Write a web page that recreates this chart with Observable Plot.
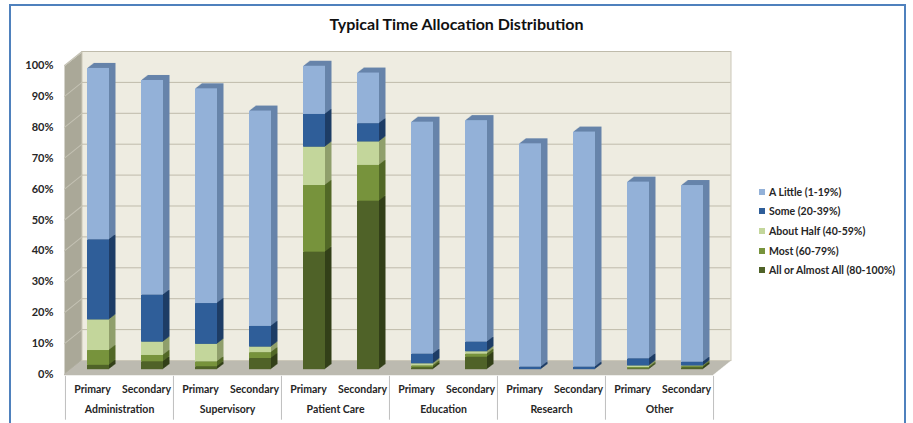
<!DOCTYPE html>
<html><head><meta charset="utf-8">
<script src="https://cdn.jsdelivr.net/npm/d3@7"></script>
<script src="https://cdn.jsdelivr.net/npm/@observablehq/plot@0.6"></script>
<style>
body{margin:0;background:#fff;font-family:Lato,"Open Sans",sans-serif;}
#border{position:absolute;left:9px;top:4px;width:893px;height:440px;border:2.5px solid #4f81bd;}
#title{position:absolute;left:0;top:14px;width:913px;text-align:center;font-weight:bold;font-size:16px;color:#111;}
#chart{position:absolute;left:0;top:40px;}
#legend{position:absolute;left:759px;top:182px;font-weight:bold;font-size:10.5px;color:#262626;}
.item{height:19.6px;display:flex;align-items:center;white-space:nowrap;}
.sw{width:6px;height:6px;margin-right:4px;flex:none;}
</style></head><body>
<div id="border"></div>
<div id="title">Typical Time Allocation Distribution</div>
<div id="chart"></div>
<div id="legend"></div>
<script>
const categories = ["Administration","Supervisory","Patient Care","Education","Research","Other"];
const roles = ["Primary","Secondary"];
const seriesNames = ["All or Almost All (80-100%)","Most (60-79%)","About Half (40-59%)","Some (20-39%)","A Little (1-19%)"];
// values per bar, order: Admin P, Admin S, Sup P, Sup S, PC P, PC S, Edu P, Edu S, Res P, Res S, Other P, Other S
const allOrAlmostAll = [1.4,2.5, 0.9,3.6, 38.0,54.5, 0.6,4.0, 0,0, 0.3,0.6];
const most          = [4.8,2.1, 1.6,1.9, 21.6,11.6, 0.6,1.0, 0,0, 0.4,0.4];
const aboutHalf     = [9.9,4.3, 5.7,1.8, 12.4,7.6, 0.7,0.8, 0,0, 0.5,0.2];
const some          = [25.9,15.2, 13.2,6.7, 10.6,5.9, 3.1,3.1, 0.8,0.8, 2.3,1.2];
const aLittle       = [55.5,69.5, 69.5,69.7, 15.6,16.4, 75.1,71.7, 72.3,76.1, 57.2,57.2];
const yTicks = [0,10,20,30,40,50,60,70,80,90,100];

const frontColors = ["#4f6228","#77933c","#c3d69b","#2f5e99","#93b1d8"];
const sideColors  = ["#334019","#526827","#909f6c","#1e3d66","#6784aa"];

const seriesValues = [allOrAlmostAll, most, aboutHalf, some, aLittle];
const keys = categories.flatMap(c => roles.map(r => c + "|" + r));
const data = [];
keys.forEach((k, i) => seriesValues.forEach((vals, s) => data.push({key: k, series: s, value: vals[i]})));

const W = 913, H = 383, ML = 64, MR = 200, MT = 25, MB = 49;
const bw = (W - ML - MR) / keys.length;
const DX = 17.5, DY = -14;       // wall depth
const BX = 6, BY = -4.8;         // bar front offset
const wallColor = "#eeece1", sideWall = "#aaa898", floorColor = "#bdbab0", gridColor = "#bfbbab";

const marks = [];
// side wall (union of shifted frames)
for (let k = 0; k <= 14; k++) marks.push(Plot.frame({fill: sideWall, dx: k * DX / 14, dy: k * DY / 14}));
// floor
for (let k = 0; k <= 14; k++) marks.push(Plot.ruleY([0], {stroke: floorColor, strokeWidth: 1.6, dx: k * DX / 14, dy: k * DY / 14}));
// back wall
marks.push(Plot.frame({fill: wallColor, stroke: "#cbc7b8", dx: DX, dy: DY}));
marks.push(Plot.ruleY(yTicks.slice(1), {stroke: gridColor, strokeWidth: 1, dx: DX, dy: DY}));
// side wall gridlines
marks.push(Plot.vector(yTicks.slice(1), {y: d => d, frameAnchor: "left", length: Math.hypot(DX, DY), rotate: Math.atan2(DX, -DY) * 180 / Math.PI, anchor: "start", stroke: "#c4c2b4", strokeWidth: 1,
  shape: {draw(ctx, l) { ctx.moveTo(0, 0); ctx.lineTo(0, -l); }}}));
// bar extrusion
const NL = 7;
for (let k = NL; k >= 1; k--) {
  marks.push(Plot.barY(data, {x: "key", y: "value", fill: d => sideColors[d.series], insetLeft: 16, insetRight: 16,
    dx: BX + k * 6.5 / NL, dy: BY - k * 5 / NL}));
}
// bar front faces
marks.push(Plot.barY(data, {x: "key", y: "value", fill: d => frontColors[d.series], insetLeft: 16, insetRight: 16, dx: BX, dy: BY}));
// axes
marks.push(Plot.axisY({ticks: yTicks, tickFormat: d => d + "%", tickSize: 0, tickPadding: 11, fontSize: 11, fontWeight: "bold", fill: "#262626", label: null}));
marks.push(Plot.axisX({tickFormat: d => d.split("|")[1], tickSize: 0, tickPadding: 11, fontSize: 10.5, fontWeight: "bold", fill: "#262626", label: null}));
// category separators
marks.push(Plot.ruleX(categories, {x: c => c + "|Primary", dx: -bw / 2, y1: -0.6, y2: -14.8, stroke: "#bfbfbf"}));
marks.push(Plot.ruleX([categories[categories.length - 1]], {x: c => c + "|Secondary", dx: bw / 2, y1: -0.6, y2: -14.8, stroke: "#bfbfbf"}));
// group labels
marks.push(Plot.text(categories, {x: c => c + "|Primary", dx: bw / 2, frameAnchor: "bottom", dy: 38, text: d => d, fontSize: 10.5, fontWeight: "bold", fill: "#262626"}));

const chart = Plot.plot({
  width: W, height: H, marginLeft: ML, marginRight: MR, marginTop: MT, marginBottom: MB,
  style: {fontFamily: "Lato, 'Open Sans', sans-serif", background: "transparent", overflow: "visible"},
  x: {domain: keys, padding: 0},
  y: {domain: [0, 100]},
  marks
});
document.getElementById("chart").appendChild(chart);

const legend = document.getElementById("legend");
for (let s = seriesNames.length - 1; s >= 0; s--) {
  const it = document.createElement("div");
  it.className = "item";
  const sw = document.createElement("span");
  sw.className = "sw"; sw.style.background = frontColors[s];
  it.appendChild(sw);
  it.appendChild(document.createTextNode(seriesNames[s]));
  legend.appendChild(it);
}
</script>
</body></html>
